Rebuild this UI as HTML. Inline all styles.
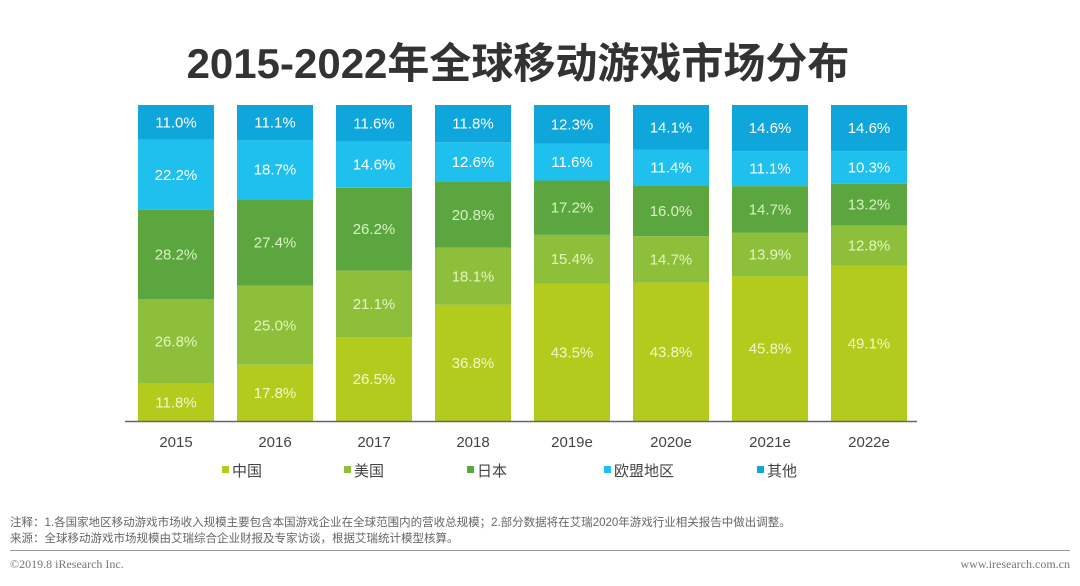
<!DOCTYPE html>
<html><head><meta charset="utf-8"><style>
body{margin:0;width:1080px;height:586px;background:#fff;overflow:hidden;font-family:"Liberation Sans","Noto Sans CJK SC",sans-serif;}
.t{position:absolute;white-space:nowrap;}
</style></head><body>
<div class="t" style="left:0;width:1036px;top:30px;text-align:center;font-size:42px;font-weight:bold;color:#333;">2015-2022年全球移动游戏市场分布</div>
<svg id="c" width="1080" height="586" style="position:absolute;left:0;top:0"></svg>
<div class="t" style="left:10px;top:514px;font-size:11.5px;color:#666;">注释：1.各国家地区移动游戏市场收入规模主要包含本国游戏企业在全球范围内的营收总规模；2.部分数据将在艾瑞2020年游戏行业相关报告中做出调整。</div>
<div class="t" style="left:10px;top:530px;font-size:11.5px;color:#666;">来源：全球移动游戏市场规模由艾瑞综合企业财报及专家访谈，根据艾瑞统计模型核算。</div>
<div style="position:absolute;left:10px;top:550px;width:1060px;height:1px;background:#999"></div>
<div class="t" style="left:10px;top:557px;font-size:12px;color:#777;font-family:'Liberation Serif',serif;">©2019.8 iResearch Inc.</div>
<div class="t" style="right:10px;top:557px;font-size:12px;color:#777;font-family:'Liberation Serif',serif;">www.iresearch.com.cn</div>
<script>
const categories=["2015","2016","2017","2018","2019e","2020e","2021e","2022e"];
const seriesNames=["中国","美国","日本","欧盟地区","其他"];
const china=[11.8,17.8,26.5,36.8,43.5,43.8,45.8,49.1];
const usa=[26.8,25.0,21.1,18.1,15.4,14.7,13.9,12.8];
const japan=[28.2,27.4,26.2,20.8,17.2,16.0,14.7,13.2];
const eu=[22.2,18.7,14.6,12.6,11.6,11.4,11.1,10.3];
const other=[11.0,11.1,11.6,11.8,12.3,14.1,14.6,14.6];
const series=[china,usa,japan,eu,other];
const colors=["#b3cb1c","#8dbf3a","#5ba63f","#1fc0ee","#0fa6dc"];
const textColors=["#f2f7c8","#e4f5c0","#d8f3c0","#fff","#fff"];
const svg=document.getElementById('c');const NS="http://www.w3.org/2000/svg";
const x0=138,step=99,bw=76,yTop=105,yBot=421;
function xPos(i){return x0+i*step;}
function yScale(v){return (yBot-yTop)*v/100;}
function mk(t,a){const e=document.createElementNS(NS,t);for(const k in a)e.setAttribute(k,a[k]);svg.appendChild(e);return e;}
categories.forEach((c,i)=>{
  let tot=0;series.forEach(s=>tot+=s[i]);
  let y=yBot;
  series.forEach((s,j)=>{
    const h=yScale(s[i]/tot*100);
    const r=mk('rect',{x:xPos(i),y:y-h,width:bw,height:h,fill:colors[j]});
    
    
    const t=mk('text',{x:xPos(i)+bw/2,y:y-h/2+5,'text-anchor':'middle','font-size':15,fill:textColors[j],'font-family':'Liberation Sans, sans-serif'});
    t.textContent=s[i].toFixed(1)+'%';
    
    
    y-=h;
  });
  const l=mk('text',{x:xPos(i)+bw/2,y:447,'text-anchor':'middle','font-size':15,fill:'#444','font-family':'Liberation Sans, sans-serif'});
  l.textContent=c;
  
  
});
const ax=mk('line',{x1:125,x2:917,y1:421.5,y2:421.5,stroke:'#666','stroke-width':1.5});


const lx=[222,344,467,604,757];
seriesNames.forEach((n,j)=>{
  const r=mk('rect',{x:lx[j],y:466,width:7,height:7,fill:colors[j]});
  
  
  const t=mk('text',{x:lx[j]+10,y:476,'font-size':15,fill:'#444','font-family':'Liberation Sans, Noto Sans CJK SC, sans-serif'});
  t.textContent=n;
  
  
});
</script>
</body></html>
